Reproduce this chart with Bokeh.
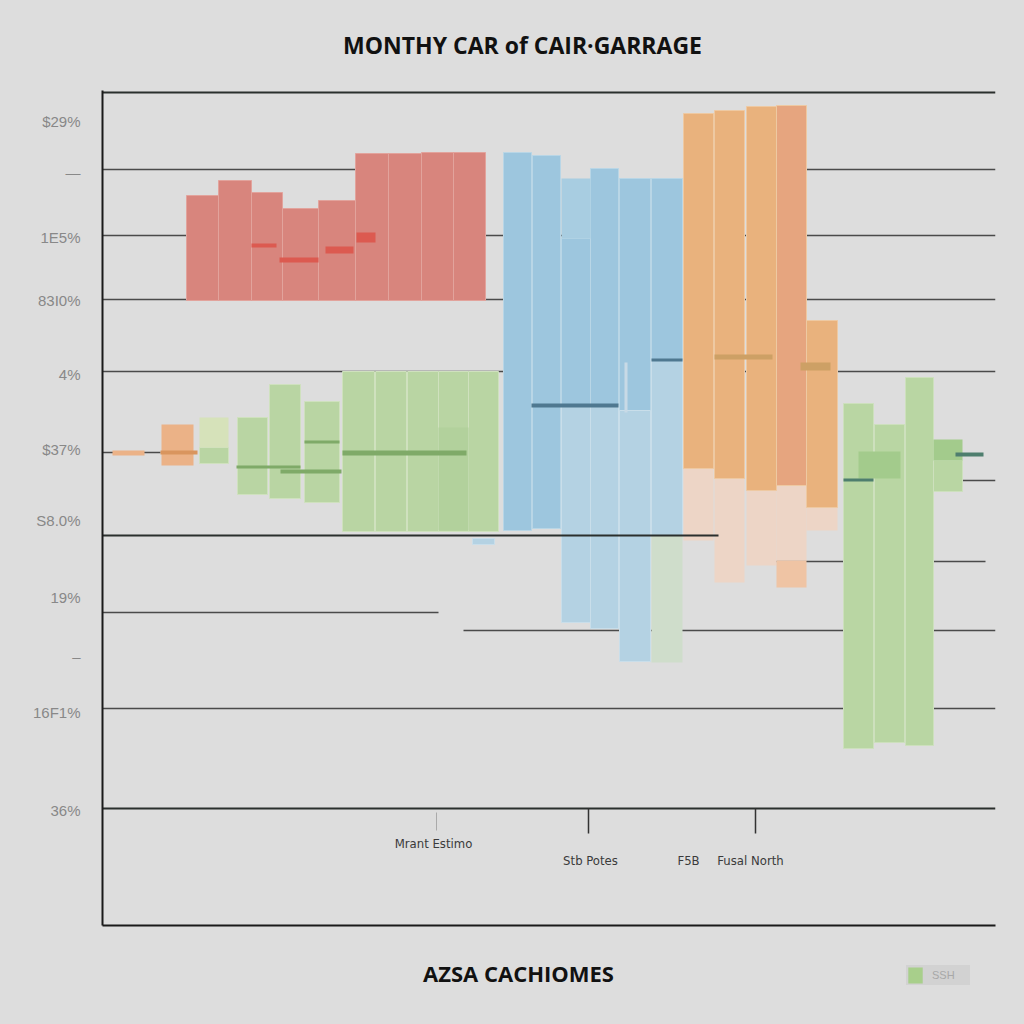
from bokeh.plotting import figure
from bokeh.models import FixedTicker, Range1d, Legend, LegendItem
from bokeh.layouts import column
from bokeh.core.properties import value
from bokeh.embed import file_html
from bokeh.resources import INLINE

# ---------------- data ----------------
title_text = "MONTHY CAR of CAIR·GARRAGE"
xaxis_title = "AZSA CACHIOMES"
legend_label = "SSH"

# y tick positions and labels
ytick_vals = [68.7, 63.6, 57.1, 50.8, 43.4, 35.9, 28.8, 21.1, 15.2, 9.6, -0.2]
ytick_labels = ["$29%", "—", "1E5%", "83I0%", "4%", "$37%", "S8.0%", "19%", "–",
                "16F1%", "36%"]

# category labels under the axis
cat_names = ["Mrant Estimo", "Stb Potes", "F5B", "Fusal North"]
cat_x = [33.1, 48.8, 58.6, 64.8]
cat_y = [-3.5, -5.2, -5.2, -5.2]
cat_tick_x = [48.6, 65.3]
cat_tick_light_x = [33.4]

# red group
red_left = [8.4, 11.6, 14.9, 18.0, 21.6, 25.3, 28.6, 31.9, 35.1]
red_right = [11.6, 14.9, 18.0, 21.6, 25.3, 28.6, 31.9, 35.1, 38.3]
red_top = [61.3, 62.8, 61.6, 60.0, 60.8, 65.5, 65.5, 65.6, 65.6]
red_bottom = [50.8, 50.8, 50.8, 50.8, 50.8, 50.8, 50.8, 50.8, 50.8]
redm_left = [14.9, 17.7, 22.3, 25.4]
redm_right = [17.4, 21.6, 25.1, 27.3]
redm_top = [56.5, 55.1, 56.2, 57.6]
redm_bottom = [56.1, 54.6, 55.5, 56.6]

# small orange (left)
orl_left = [1.0, 5.9]
orl_right = [4.2, 9.1]
orl_top = [35.8, 38.4]
orl_bottom = [35.3, 34.3]
orlm_left = [5.8]
orlm_right = [9.5]
orlm_top = [35.8]
orlm_bottom = [35.4]

# green group (left)
gpale_left = [9.7]
gpale_right = [12.6]
gpale_top = [39.1]
gpale_bottom = [36.1]
gl_left = [9.7, 13.5, 16.7, 20.2, 24.0, 27.3, 30.5, 33.6, 36.6]
gl_right = [12.6, 16.5, 19.8, 23.7, 27.2, 30.4, 33.6, 36.6, 39.6]
gl_top = [36.1, 39.1, 42.4, 40.7, 43.7, 43.7, 43.7, 43.7, 43.7]
gl_bottom = [34.5, 31.4, 31.0, 30.6, 27.7, 27.7, 27.7, 27.7, 27.7]
glin_left = [33.6]
glin_right = [36.6]
glin_top = [38.1]
glin_bottom = [27.8]
glm_left = [13.4, 17.8, 20.2, 24.0]
glm_right = [19.8, 23.9, 23.7, 36.4]
glm_top = [34.3, 33.9, 36.8, 35.8]
glm_bottom = [34.0, 33.5, 36.5, 35.3]

# blue group
bmed_left = [40.1, 43.0, 45.9, 48.8, 51.7, 54.9]
bmed_right = [42.9, 45.8, 48.8, 51.6, 54.8, 58.0]
bmed_top = [65.6, 65.3, 57.0, 64.0, 63.0, 63.0]
bmed_bottom = [27.8, 28.0, 40.3, 40.3, 39.8, 44.8]
btop_left = [45.9]
btop_right = [48.8]
btop_top = [63.0]
btop_bottom = [57.0]
blt_left = [45.9, 48.8, 51.7, 54.9, 37.0]
blt_right = [48.8, 51.6, 54.8, 58.0, 39.2]
blt_top = [40.3, 40.3, 39.8, 44.8, 27.0]
blt_bottom = [18.6, 18.0, 14.7, 27.3, 26.4]
bpg_left = [54.9]
bpg_right = [58.0]
bpg_top = [27.3]
bpg_bottom = [14.6]
bm_left = [42.9, 54.9]
bm_right = [51.6, 58.0]
bm_top = [40.5, 45.0]
bm_bottom = [40.1, 44.7]
bv_left = [52.2]
bv_right = [52.5]
bv_top = [44.6]
bv_bottom = [39.6]

# orange group
or_left = [58.1, 61.2, 64.4, 70.4]
or_right = [61.1, 64.2, 67.4, 73.5]
or_top = [69.5, 69.8, 70.2, 48.8]
or_bottom = [34.0, 33.0, 31.8, 30.1]
ors_left = [67.4]
ors_right = [70.4]
ors_top = [70.3]
ors_bottom = [32.3]
orp_left = [58.1, 61.2, 64.4, 67.4, 70.4]
orp_right = [61.1, 64.2, 67.4, 70.4, 73.5]
orp_top = [34.0, 33.0, 31.8, 32.3, 30.1]
orp_bottom = [26.8, 22.6, 24.3, 24.8, 27.8]
orb_left = [67.4]
orb_right = [70.4]
orb_top = [24.8]
orb_bottom = [22.1]
orm_left = [61.2, 69.8]
orm_right = [67.0, 72.8]
orm_top = [45.4, 44.6]
orm_bottom = [44.9, 43.8]

# green group (right)
gr_left = [74.1, 77.2, 80.3, 83.1]
gr_right = [77.1, 80.2, 83.1, 86.0]
gr_top = [40.5, 38.4, 43.1, 34.8]
gr_bottom = [6.0, 6.6, 6.3, 31.7]
grd_left = [75.6, 83.1]
grd_right = [79.8, 86.0]
grd_top = [35.7, 36.9]
grd_bottom = [33.0, 34.8]
grm_left = [74.1, 85.3]
grm_right = [77.1, 88.1]
grm_top = [33.0, 35.6]
grm_bottom = [32.7, 35.2]

# horizontal rule lines (behind bars)
hl_y = [63.9, 63.9, 57.3, 50.9, 43.7, 35.6, 24.7, 19.6, 17.8, 10.0, 32.8]
hl_x0 = [0.0, 70.4, 0.0, 0.0, 0.0, 0.0, 67.4, 0.0, 36.1, 0.0, 86.0]
hl_x1 = [38.3, 89.3, 89.3, 89.3, 89.3, 5.8, 88.3, 33.6, 89.3, 89.3, 89.3]
# rule lines drawn over the bars (incl. the top frame line)
hf_y = [27.3, 0.0, 71.6]
hf_x0 = [0.0, 0.0, 0.0]
hf_x1 = [61.6, 89.3, 89.3]

# text anchors in the strips (same x units as the chart)
title_x = 42.0
xtitle_x = 41.6

# ---------------- layout constants ----------------
BG = "#DDDDDD"
W = 1024
TOP_H = 80
BOT_H = 74
X_END = 89.3


def strip(h):
    f = figure(width=W, height=h, output_backend="svg", toolbar_location=None,
               x_range=Range1d(0, X_END), y_range=Range1d(0, h), min_border=0,
               min_border_left=102, min_border_right=29, min_border_top=0,
               min_border_bottom=0, background_fill_color=BG, background_fill_alpha=0.0,
               border_fill_color=BG, outline_line_color=None)
    f.axis.visible = False
    f.grid.visible = False
    return f


# ---- title strip ----
top = strip(TOP_H)
top.text(x=[title_x], y=[TOP_H - 44], text=[title_text], text_align="center",
         text_baseline="middle", text_font=value("Open Sans"), text_font_style="bold",
         text_font_size="23px", text_color="#111111")

# ---- main chart ----
p = figure(width=W, height=870, output_backend="svg", toolbar_location=None,
           x_range=Range1d(0, X_END), y_range=Range1d(-11.7, 71.8),
           min_border_left=102, min_border_right=29, min_border_top=10,
           min_border_bottom=25, background_fill_color=BG, border_fill_color=BG,
           outline_line_color=None)
p.grid.visible = False

ya = p.yaxis[0]
ya.ticker = FixedTicker(ticks=ytick_vals)
ya.major_label_overrides = {v: t for v, t in zip(ytick_vals, ytick_labels)}
ya.axis_line_color = "#1A1A1A"
ya.axis_line_width = 2
ya.major_tick_line_color = None
ya.minor_tick_line_color = None
ya.major_label_standoff = 16
ya.major_label_text_color = "#888888"
ya.major_label_text_font = "Liberation Sans"
ya.major_label_text_font_size = "15px"

xa = p.xaxis[0]
xa.ticker = FixedTicker(ticks=[])
xa.axis_line_color = "#1A1A1A"
xa.axis_line_width = 2
xa.major_tick_line_color = None
xa.minor_tick_line_color = None
xa.major_tick_out = 0
xa.major_label_standoff = 0
xa.major_label_text_font_size = "0px"

p.segment(x0=hl_x0, y0=hl_y, x1=hl_x1, y1=hl_y, line_color="#4A4A4A", line_width=1.5)


def q(l, r, t, b, fill, line=None, lw=1):
    return p.quad(left=l, right=r, top=t, bottom=b, fill_color=fill,
                  line_color=line, line_width=lw)


# red
q(red_left, red_right, red_top, red_bottom, "#D8857D", "#E2A39C")
q(redm_left, redm_right, redm_top, redm_bottom, "#DC5A50")
# small orange
q(orl_left, orl_right, orl_top, orl_bottom, "#EBB287", None)
q(orlm_left, orlm_right, orlm_top, orlm_bottom, "#D9955E")
# green left
q(gl_left, gl_right, gl_top, gl_bottom, "#B9D5A3", "#CFE1BE")
q(gpale_left, gpale_right, gpale_top, gpale_bottom, "#D6E2BA", None)
q(glin_left, glin_right, glin_top, glin_bottom, "#B2D19C", None)
q(glm_left, glm_right, glm_top, glm_bottom, "#7FAA68")
# blue
q(bmed_left, bmed_right, bmed_top, bmed_bottom, "#9DC6DE", "#B9D6E6")
q(btop_left, btop_right, btop_top, btop_bottom, "#A8CDE1", None)
q(blt_left, blt_right, blt_top, blt_bottom, "#B4D2E3", "#C9DEEA")
q(bpg_left, bpg_right, bpg_top, bpg_bottom, "#CFDDCB", None)
q(bm_left, bm_right, bm_top, bm_bottom, "#4F7890")
q(bv_left, bv_right, bv_top, bv_bottom, "#C8DAE6")
# orange
q(orp_left, orp_right, orp_top, orp_bottom, "#EDD5C6", None)
q(orb_left, orb_right, orb_top, orb_bottom, "#EFC4A4", None)
q(or_left, or_right, or_top, or_bottom, "#E9B27D", "#EEC9A2")
q(ors_left, ors_right, ors_top, ors_bottom, "#E6A57F", "#EEC9A2")
q(orm_left, orm_right, orm_top, orm_bottom, "#CDA065")
# green right
q(gr_left, gr_right, gr_top, gr_bottom, "#B9D6A3", "#CDE0BD")
q(grd_left, grd_right, grd_top, grd_bottom, "#A3CB8C", None)
q(grm_left, grm_right, grm_top, grm_bottom, "#4E7E6E")

p.segment(x0=hf_x0, y0=hf_y, x1=hf_x1, y1=hf_y, line_color="#2A2F2D", line_width=2)

p.segment(x0=cat_tick_x, y0=[0.0, 0.0], x1=cat_tick_x, y1=[-2.5, -2.5],
          line_color="#333333", line_width=1.5)
p.segment(x0=cat_tick_light_x, y0=[-0.4], x1=cat_tick_light_x, y1=[-2.2],
          line_color="#AAAAAA", line_width=1)

p.text(x=cat_x, y=cat_y, text=cat_names, text_align="center", text_baseline="middle",
       text_font=value("'DejaVu Sans Condensed', 'Liberation Sans Narrow', sans-serif"),
       text_font_size="13px", text_color="#3A3A3A")

# ---- bottom strip: axis title + legend ----
bot = strip(BOT_H)
bot.text(x=[xtitle_x], y=[BOT_H - 22], text=[xaxis_title], text_align="center",
         text_baseline="middle", text_font=value("Open Sans"), text_font_style="bold",
         text_font_size="22px", text_color="#111111")
# swatch renderer for the legend key (kept outside the visible x range)
leg_r = bot.quad(left=[-3.0], right=[-2.0], top=[1.0], bottom=[0.0],
                 fill_color="#A8CF8B", line_color=None)
legend = Legend(items=[LegendItem(label=legend_label, renderers=[leg_r])],
                location=(804, BOT_H - 35), orientation="horizontal",
                background_fill_color="#D2D2D2", background_fill_alpha=1.0,
                border_line_color=None, glyph_width=18, glyph_height=20,
                label_text_color="#A8A8A8", label_text_font_size="11px",
                padding=1, margin=0, label_standoff=8, label_width=38)
bot.add_layout(legend)

layout = column(top, p, bot, spacing=0, styles={"background-color": BG})
open("out.html", "w").write(file_html(layout, INLINE))
